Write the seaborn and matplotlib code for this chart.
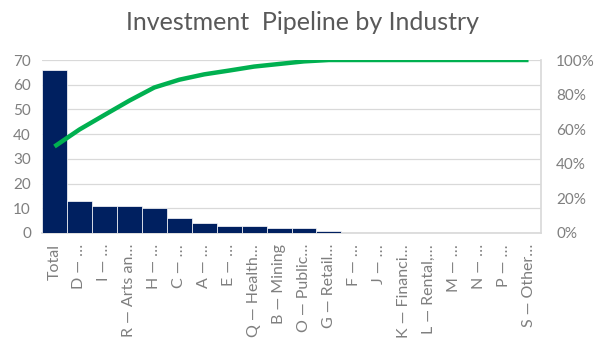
import matplotlib
matplotlib.use("Agg")
import matplotlib.pyplot as plt
import seaborn as sns
import pandas as pd
import numpy as np

categories = ["Total", "D — …", "I — …", "R — Arts an…", "H — …", "C — …", "A — …",
              "E — …", "Q — Health…", "B — Mining", "O — Public…", "G — Retail…",
              "F — …", "J — …", "K — Financi…", "L — Rental,…", "M — …", "N — …",
              "P — …", "S — Other…"]
values = [66, 13, 11, 11, 10, 6, 4, 3, 3, 2, 2, 1, 0, 0, 0, 0, 0, 0, 0, 0]
cum_pct = [0.50, 0.598, 0.682, 0.765, 0.841, 0.886, 0.917, 0.939, 0.962, 0.977,
           0.992, 1.0, 1.0, 1.0, 1.0, 1.0, 1.0, 1.0, 1.0, 1.0]
left_ticks = [0, 10, 20, 30, 40, 50, 60, 70]
right_ticks = [0, 0.2, 0.4, 0.6, 0.8, 1.0]
right_labels = ["0%", "20%", "40%", "60%", "80%", "100%"]

sns.set_theme(style="white")
plt.rcParams['font.family'] = ['Lato', 'DejaVu Sans']

df = pd.DataFrame({"cat": categories, "val": values, "cum": cum_pct})

fig = plt.figure(figsize=(6.12, 3.51), dpi=100)
ax = fig.add_axes([42/612, 1-233/351, (541-42)/612, (233-60)/351])

sns.barplot(data=df, x="cat", y="val", ax=ax, color="#002060", width=1.0,
            edgecolor="white", linewidth=0.5, saturation=1, zorder=3)
ax.set_ylim(0, 70)
ax.set_yticks(left_ticks)
ax.set_xlim(-0.5, len(categories) - 0.5)
ax.grid(axis="y", color="#d9d9d9", linewidth=0.9)
ax.set_axisbelow(True)
ax.set_xlabel("")
ax.set_ylabel("")
for s in ["top", "left", "right"]:
    ax.spines[s].set_visible(False)
ax.spines["bottom"].set_color("#d9d9d9")
ax.spines["bottom"].set_zorder(1)
ax.tick_params(axis="y", colors="#7f7f7f", labelsize=11, length=0, pad=8)
ax.tick_params(axis="x", colors="#7f7f7f", labelsize=11.5, length=0, pad=8)
ax.set_xticks(range(len(categories)))
ax.set_xticklabels(categories, rotation=90)

ax2 = ax.twinx()
sns.lineplot(x=np.arange(len(categories)), y=df["cum"], ax=ax2, color="#00b050",
             linewidth=3.2, solid_capstyle="butt")
ax2.set_ylim(0, 1.0)
ax2.set_yticks(right_ticks)
ax2.set_yticklabels(right_labels)
ax2.set_ylabel("")
ax2.tick_params(axis="y", colors="#7f7f7f", labelsize=11, length=0, pad=11)
for s in ["top", "left", "bottom"]:
    ax2.spines[s].set_visible(False)
ax2.spines["right"].set_color("#d9d9d9")
ax2.set_xlim(-0.5, len(categories) - 0.5)

fig.text(0.495, 1 - 23/351, "Investment  Pipeline by Industry", ha="center", va="center",
         fontsize=18, color="#595959")

fig.savefig("out.png", dpi=100, facecolor="white")
